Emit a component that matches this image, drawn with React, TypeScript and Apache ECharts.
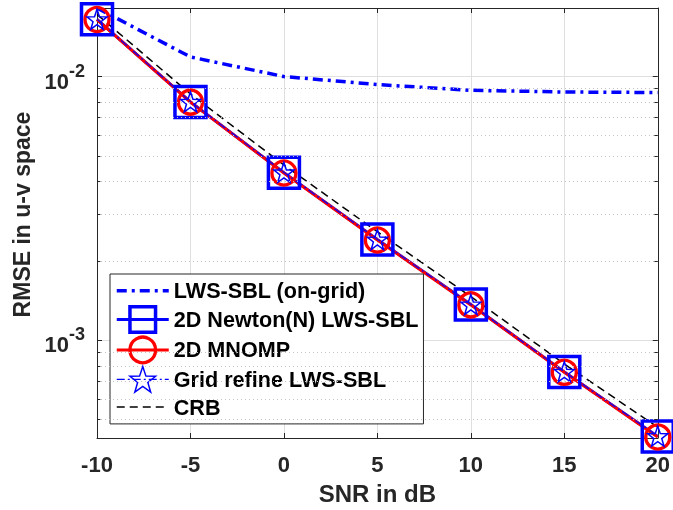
import React, { useEffect, useRef } from 'react';
import * as echarts from 'echarts';

const SNR = [-10, -5, 0, 5, 10, 15, 20];
const ON_GRID = [0.0182, 0.01187, 0.0100, 0.00933, 0.00887, 0.00874, 0.0087];
const NEWTON = [0.01649, 0.00801, 0.00432, 0.00241, 0.001366, 0.000758, 0.000432];
const MNOMP = [0.01646, 0.008, 0.00431, 0.0024, 0.001362, 0.000756, 0.00043];
const GRID_REFINE = [0.0165, 0.00802, 0.00433, 0.00241, 0.001367, 0.000759, 0.000433];
const CRB = [0.0172, 0.00859, 0.00462, 0.00258, 0.001465, 0.000813, 0.000468];
const MINOR_VALUES = [5e-4, 6e-4, 7e-4, 8e-4, 9e-4, 2e-3, 3e-3, 4e-3, 5e-3, 6e-3, 7e-3, 8e-3, 9e-3];
const X_MIN = -10;
const X_MAX = 20;
const Y_MIN = 4.26e-4;
const Y_MAX = 0.0182;

const FONT = '"Liberation Sans", Arial, Helvetica, sans-serif';
const AX = '#262626';
const BLUE = '#0000ff';
const RED = '#ff0000';
const CLEAR = 'rgba(0,0,0,0)';
const STAR = 'path://M0,-10 L2.35,-3.24 L9.51,-3.09 L3.8,1.24 L5.88,8.09 L0,4 L-5.88,8.09 L-3.8,1.24 L-9.51,-3.09 L-2.35,-3.24 Z';
const TICK_X = 0.18;

export default function App() {
  const ref = useRef<HTMLDivElement>(null);
  useEffect(() => {
    const chart = echarts.init(ref.current!, null, { renderer: 'svg' });
    const pair = (arr: number[]) => SNR.map((x, i) => [x, arr[i]]);
    const minorGrid = MINOR_VALUES.map((v) => [{ coord: [X_MIN, v] }, { coord: [X_MAX, v] }]);
    const minorTicks: any[] = [];
    MINOR_VALUES.forEach((v) => {
      minorTicks.push([{ coord: [X_MIN, v] }, { coord: [X_MIN + TICK_X, v] }]);
      minorTicks.push([{ coord: [X_MAX - TICK_X, v] }, { coord: [X_MAX, v] }]);
    });
    const yFormatter = (v: number) => {
      const l = Math.log10(v);
      const e = Math.round(l);
      if (Math.abs(l - e) > 1e-6) return '';
      return `{b|10}{s|${e}}`;
    };
    const labelBase = { fontFamily: FONT, fontWeight: 'bold' as const, color: AX };
    const hidden = { color: CLEAR, borderWidth: 0, borderColor: CLEAR };
    chart.setOption({
      animation: false,
      grid: { left: 97, right: 14, top: 8, bottom: 72, containLabel: false },
      xAxis: [
        {
          type: 'value', min: X_MIN, max: X_MAX, interval: 5, position: 'bottom',
          axisLine: { show: true, onZero: false, lineStyle: { color: AX, width: 1 } },
          axisTick: { show: true, inside: true, length: 5, lineStyle: { color: AX } },
          axisLabel: { ...labelBase, fontSize: 22, margin: 15 },
          splitLine: { show: true, lineStyle: { color: '#dfdfdf', width: 1 } },
          name: 'SNR in dB', nameLocation: 'middle', nameGap: 43,
          nameTextStyle: { ...labelBase, fontSize: 24 },
        },
        {
          type: 'value', min: X_MIN, max: X_MAX, interval: 5, position: 'top',
          axisLine: { show: true, onZero: false, lineStyle: { color: AX, width: 1 } },
          axisTick: { show: true, inside: true, length: 5, lineStyle: { color: AX } },
          axisLabel: { show: false },
          splitLine: { show: false },
        },
      ],
      yAxis: [
        {
          type: 'log', logBase: 10, min: Y_MIN, max: Y_MAX, position: 'left',
          axisLine: { show: true, onZero: false, lineStyle: { color: AX, width: 1 } },
          axisTick: { show: true, inside: true, length: 5, lineStyle: { color: AX } },
          axisLabel: {
            formatter: yFormatter, margin: 12,
            rich: {
              b: { ...labelBase, fontSize: 22, padding: [9, 0, 0, 0] },
              s: { ...labelBase, fontSize: 18, padding: [0, 0, 12, 0] },
            },
          },
          splitLine: { show: true, lineStyle: { color: '#dfdfdf', width: 1 } },
          name: 'RMSE in u-v space', nameLocation: 'middle', nameGap: 62,
          nameTextStyle: { ...labelBase, fontSize: 23, padding: [0, 0, 0, 17] },
        },
        {
          type: 'log', logBase: 10, min: Y_MIN, max: Y_MAX, position: 'right',
          axisLine: { show: true, onZero: false, lineStyle: { color: AX, width: 1 } },
          axisTick: { show: true, inside: true, length: 5, lineStyle: { color: AX } },
          axisLabel: { show: false },
          splitLine: { show: false },
        },
      ],
      legend: {
        orient: 'vertical', left: 110, top: 274,
        padding: [4, 5, 4, 5],
        itemWidth: 52, itemHeight: 32, itemGap: 1.4,
        backgroundColor: '#ffffff', borderColor: AX, borderWidth: 1,
        selectedMode: false,
        textStyle: { fontFamily: FONT, fontWeight: 'bold', fontSize: 21.6, color: '#000' },
        data: [
          { name: 'LWS-SBL (on-grid)', itemStyle: hidden, lineStyle: { color: BLUE, width: 3.5, type: [10, 5, 3, 5] } },
          { name: '2D Newton(N) LWS-SBL', itemStyle: { color: CLEAR, borderColor: BLUE, borderWidth: 3.5 }, lineStyle: { color: BLUE, width: 3 } },
          { name: '2D MNOMP', itemStyle: { color: CLEAR, borderColor: RED, borderWidth: 3.3 }, lineStyle: { color: RED, width: 3 } },
          { name: 'Grid refine LWS-SBL', itemStyle: { color: CLEAR, borderColor: BLUE, borderWidth: 1.5 }, lineStyle: { color: BLUE, width: 1.2, type: [8, 3, 2, 3] } },
          { name: 'CRB', itemStyle: hidden, lineStyle: { color: '#000', width: 1.5, type: [8, 5] } },
        ],
      },
      series: [
        {
          name: 'LWS-SBL (on-grid)', type: 'line', data: pair(ON_GRID), symbol: 'none',
          lineStyle: { color: BLUE, width: 3.5, type: [10, 5, 3, 5] }, itemStyle: { color: BLUE },
          emphasis: { disabled: true }, clip: false,
          markLine: { silent: true, symbol: 'none', label: { show: false }, animation: false,
            lineStyle: { color: '#c4c4c4', width: 1, type: [1, 3] }, emphasis: { disabled: true }, data: minorGrid },
        },
        {
          name: '2D Newton(N) LWS-SBL', type: 'line', data: pair(NEWTON), symbol: 'rect', symbolSize: 31,
          lineStyle: { color: BLUE, width: 3 },
          itemStyle: { color: CLEAR, borderColor: BLUE, borderWidth: 3.5 },
          emphasis: { disabled: true }, clip: false,
        },
        {
          name: '2D MNOMP', type: 'line', data: pair(MNOMP), symbol: 'circle', symbolSize: 24,
          lineStyle: { color: RED, width: 3 },
          itemStyle: { color: CLEAR, borderColor: RED, borderWidth: 3.3 },
          emphasis: { disabled: true }, clip: false,
        },
        {
          name: 'Grid refine LWS-SBL', type: 'line', data: pair(GRID_REFINE), symbol: STAR, symbolSize: 20,
          lineStyle: { color: BLUE, width: 1.2, type: [8, 3, 2, 3] },
          itemStyle: { color: CLEAR, borderColor: BLUE, borderWidth: 1.5 },
          emphasis: { disabled: true }, clip: false,
        },
        {
          name: 'CRB', type: 'line', data: pair(CRB), symbol: 'none',
          lineStyle: { color: '#000', width: 1.5, type: [8, 5] }, itemStyle: { color: '#000' },
          emphasis: { disabled: true }, clip: false,
          markLine: { silent: true, symbol: 'none', label: { show: false }, animation: false,
            lineStyle: { color: AX, width: 1, type: 'solid' }, emphasis: { disabled: true }, data: minorTicks },
        },
      ],
    });
    return () => chart.dispose();
  }, []);
  return <div ref={ref} style={{ position: 'fixed', left: 0, top: 0, width: 673, height: 510 }} />;
}
